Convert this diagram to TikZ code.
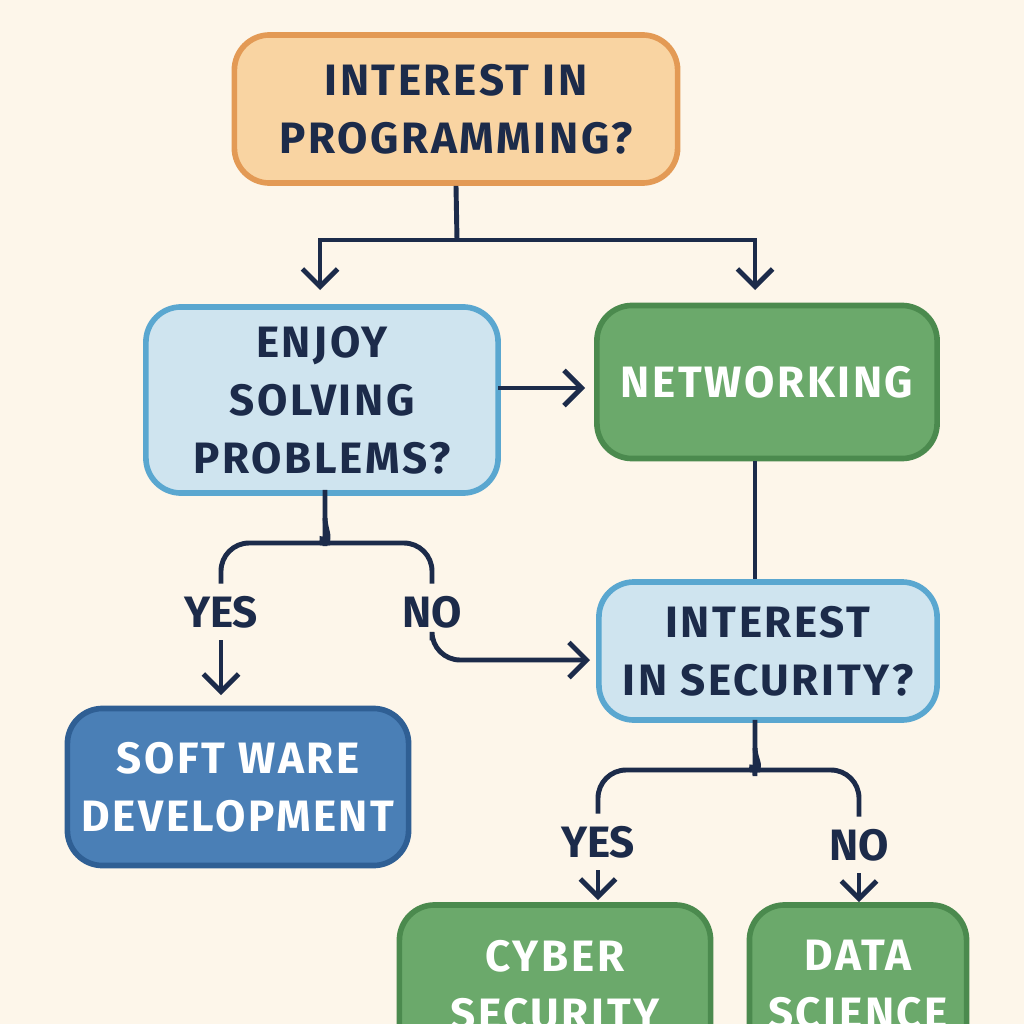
\documentclass[tikz,border=0pt]{standalone}
\usepackage{fontspec}
\setmainfont{Fira Sans}
\usetikzlibrary{arrows.meta, positioning}
\definecolor{bgCream}{HTML}{FDF6EA}
\definecolor{lineNavy}{HTML}{1C2B4A}
\definecolor{orangeFill}{HTML}{F9D4A2}
\definecolor{orangeLine}{HTML}{E39A55}
\definecolor{paleFill}{HTML}{CFE4EF}
\definecolor{paleLine}{HTML}{5AA7D0}
\definecolor{greenFill}{HTML}{6BA96B}
\definecolor{greenLine}{HTML}{4B8A4E}
\definecolor{blueFill}{HTML}{4A7FB6}
\definecolor{blueLine}{HTML}{2F5F94}
\tikzset{
  box/.style={rounded corners=10pt, line width=1.6pt, align=center, font=\fontsize{12.5}{16.5}\selectfont\addfontfeatures{LetterSpace=6}\bfseries, inner sep=0pt},
  question/.style={box, fill=paleFill, draw=paleLine, text=lineNavy},
  answer/.style={box, fill=greenFill, draw=greenLine, text=white},
  wire/.style={draw=lineNavy, line width=1.4pt, rounded corners=8pt},
  arrowwire/.style={wire, -{Straight Barb[length=5pt,width=10pt]}},
  tag/.style={font=\fontsize{12.5}{16}\selectfont\bfseries, text=lineNavy}
}
\begin{document}
\begin{tikzpicture}[x=0.01cm, y=-0.01cm]
    \useasboundingbox (0,0) rectangle (1024,1024);
    \clip (0,0) rectangle (1024,1024);
    \fill[bgCream] (0,0) rectangle (1024,1024);

    % boxes
    \node[box, fill=orangeFill, draw=orangeLine, text=lineNavy, minimum width=4.43cm, minimum height=1.48cm]
        (prog) at (456,109) {INTEREST IN\\PROGRAMMING?};
    \node[question, minimum width=3.52cm, minimum height=1.86cm] (solve) at (322,400) {ENJOY\\SOLVING\\PROBLEMS?};
    \node[answer, minimum width=3.40cm, minimum height=1.53cm] (net) at (767,382) {NETWORKING};
    \node[question, minimum width=3.38cm, minimum height=1.38cm] (sec) at (768,651) {INTEREST\\IN SECURITY?};
    \node[box, fill=blueFill, draw=blueLine, text=white, minimum width=3.41cm, minimum height=1.57cm]
        (soft) at (238,787) {SOFT WARE\\DEVELOPMENT};
    \node[answer, minimum width=3.11cm, minimum height=1.60cm] (cyber) at (555,985) {CYBER\\SECURITY};
    \node[answer, minimum width=2.17cm, minimum height=1.60cm] (data) at (858,985) {DATA\\SCIENCE};

    % labels
    \node[tag] (yesA) at (221,612) {YES};
    \node[tag] (noA) at (432,612) {NO};
    \node[tag] (yesB) at (598,842) {YES};
    \node[tag] (noB) at (859,845) {NO};

    % connectors
    \coordinate (split) at (457,240);
    \coordinate (solveOut) at (498,388);
    \draw[wire] (prog.south) -- (split);
    \draw[arrowwire, sharp corners] (split) -| (320,290);
    \draw[arrowwire, sharp corners] (split) -| (755,290);
    \draw[arrowwire] (solveOut) -- (585,388);
    \draw[wire] (net.south -| 755,0) -- (sec.north -| 755,0);

    \draw[wire] (solve.south -| 325,0) -- (325,518) to[out=270,in=0] (302,543) -| (yesA.north);
    \draw[wire] (325,518) to[out=270,in=180] (348,543) -| (noA.north);
    \draw[arrowwire] (yesA.south) -- (221,695);
    \draw[arrowwire] (noA.south) -- (432,660) -- (590,660);

    \draw[wire] (sec.south -| 755,0) -- (755,748) to[out=270,in=0] (732,770) -| (yesB.north);
    \draw[wire] (755,748) to[out=270,in=180] (778,770) -| (noB.north);
    \draw[arrowwire] (yesB.south) -- (598,900);
    \draw[arrowwire] (noB.south) -- (859,902);
\end{tikzpicture}
\end{document}
